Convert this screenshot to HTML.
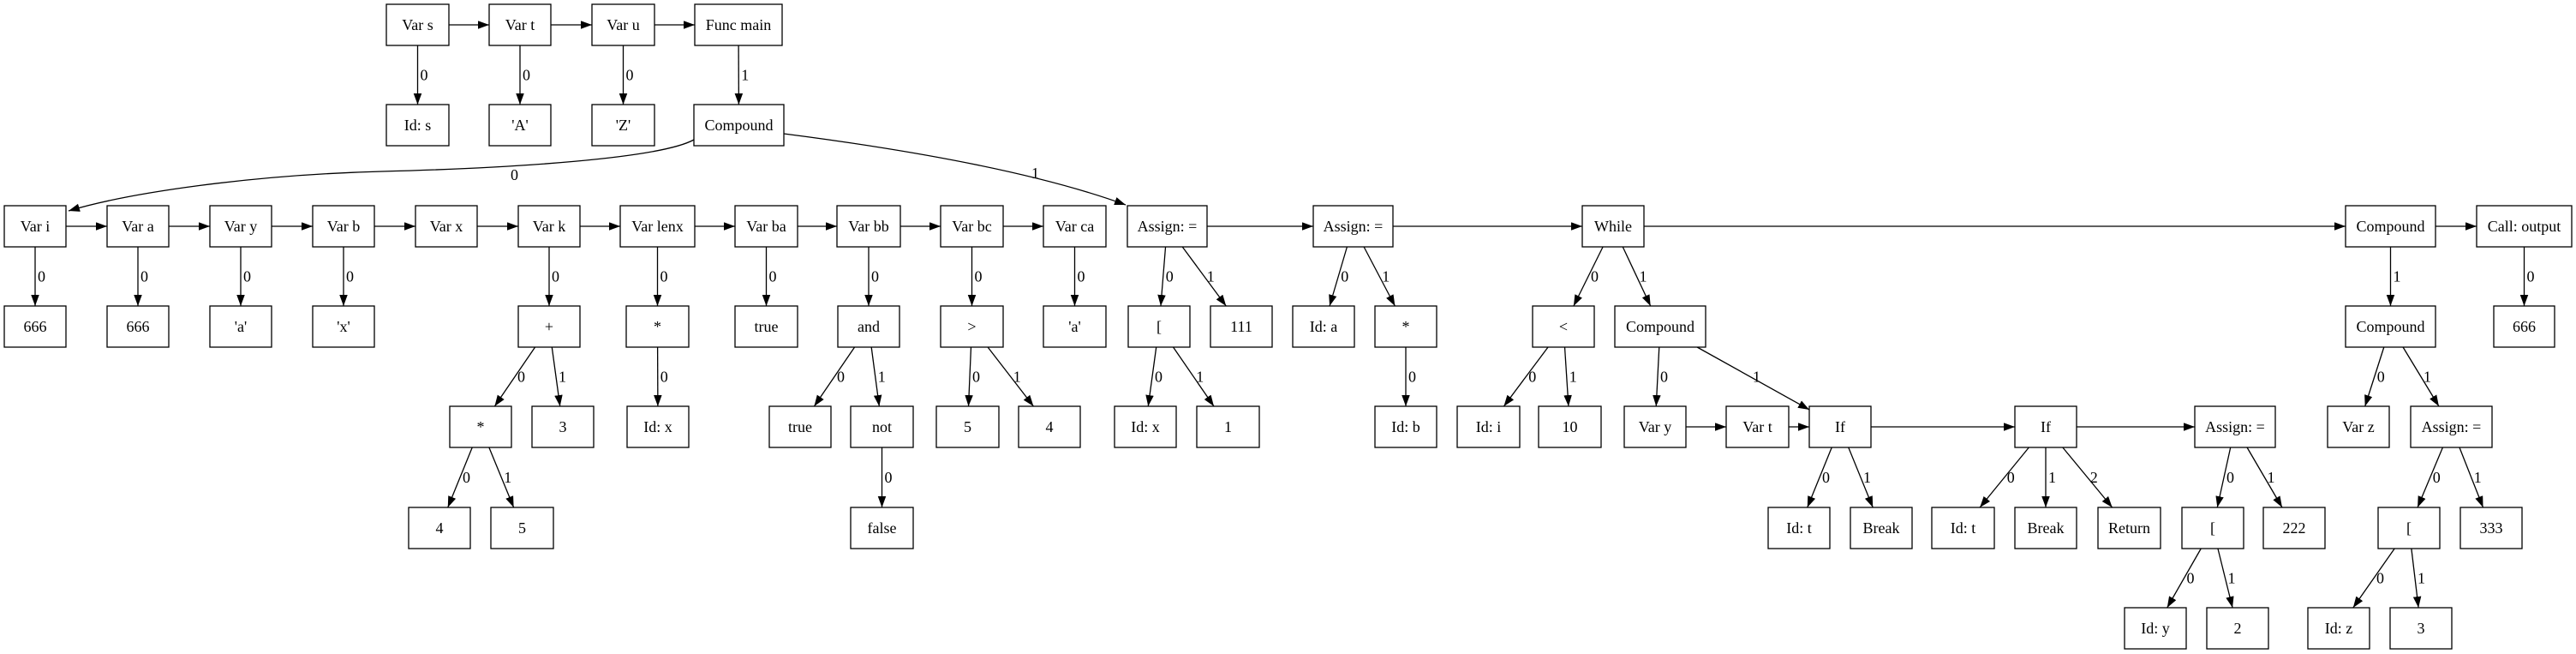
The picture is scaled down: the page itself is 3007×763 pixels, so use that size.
<!DOCTYPE html>
<html><head><meta charset="utf-8"><style>
html,body{margin:0;padding:0;background:#fff;}
svg{display:block;}
text{font-family:"Liberation Serif","Times New Roman",serif;font-size:18px;fill:#000;}
.n{text-anchor:middle;}
</style></head><body>
<svg id="s" width="3007" height="763" viewBox="0 0 3007 763" xmlns="http://www.w3.org/2000/svg">
<defs><marker id="ah" markerUnits="userSpaceOnUse" markerWidth="14" markerHeight="10" refX="13" refY="4.75" orient="auto"><path d="M0,0 L13,4.75 L0,9.5 z" fill="#000"/></marker></defs>
<g id="edges" stroke="#000" stroke-width="1.3" fill="none">
<path d="M810,163 C770,185 600,196 446,200 S150,225 80,246" marker-end="url(#ah)"/>
<path d="M915,156 Q1180,190 1314,239" marker-end="url(#ah)"/>
</g>
<g id="boxes" fill="#fff" stroke="#000" stroke-width="1.3"></g>
<text x="596" y="210">0</text>
<text x="1204" y="208">1</text>
<g>
<text id="L_vs_ids">0</text><text id="L_vt_cA">0</text><text id="L_vu_cZ">0</text><text id="L_fm_cmp0">1</text>
<text id="L_vi_a666">0</text><text id="L_va_b666">0</text><text id="L_vy_ca">0</text><text id="L_vb_cx">0</text><text id="L_vk_plus">0</text><text id="L_vlenx_star1">0</text><text id="L_vba_tr1">0</text><text id="L_vbb_and">0</text><text id="L_vbc_gt">0</text><text id="L_vca_ca2">0</text><text id="L_as1_br1">0</text><text id="L_as1_n111">1</text><text id="L_as2_ida">0</text><text id="L_as2_star2">1</text><text id="L_wh_lt">0</text><text id="L_wh_cmp2">1</text><text id="L_cmp1_cmp3">1</text><text id="L_call_c666">0</text>
<text id="L_plus_star0">0</text><text id="L_plus_n3">1</text><text id="L_star1_idx">0</text><text id="L_and_tr2">0</text><text id="L_and_not">1</text><text id="L_gt_n5">0</text><text id="L_gt_n4">1</text><text id="L_br1_idx2">0</text><text id="L_br1_n1">1</text><text id="L_star2_idb">0</text><text id="L_lt_idi">0</text><text id="L_lt_n10">1</text><text id="L_cmp2_vy2">0</text><text id="L_cmp2_if1">1</text><text id="L_cmp3_vz">0</text><text id="L_cmp3_as4">1</text>
<text id="L_star0_n4b">0</text><text id="L_star0_n5b">1</text><text id="L_not_fals">0</text><text id="L_if1_idt1">0</text><text id="L_if1_brk1">1</text><text id="L_if2_idt2">0</text><text id="L_if2_brk2">1</text><text id="L_if2_ret">2</text><text id="L_as3_br2">0</text><text id="L_as3_n222">1</text><text id="L_as4_br3">0</text><text id="L_as4_n333">1</text>
<text id="L_br2_idy">0</text><text id="L_br2_n2">1</text><text id="L_br3_idz">0</text><text id="L_br3_n3b">1</text>
</g>
<g>
<text class="n" x="487.5" y="35">Var s</text>
<text class="n" x="607" y="35">Var t</text>
<text class="n" x="727.5" y="35">Var u</text>
<text class="n" x="862" y="35">Func main</text>
<text class="n" x="487.5" y="152">Id: s</text>
<text class="n" x="607" y="152">'A'</text>
<text class="n" x="727.5" y="152">'Z'</text>
<text class="n" x="862.5" y="152">Compound</text>
<text class="n" x="41" y="270">Var i</text>
<text class="n" x="161" y="270">Var a</text>
<text class="n" x="281" y="270">Var y</text>
<text class="n" x="401" y="270">Var b</text>
<text class="n" x="521" y="270">Var x</text>
<text class="n" x="641" y="270">Var k</text>
<text class="n" x="767.5" y="270">Var lenx</text>
<text class="n" x="894.5" y="270">Var ba</text>
<text class="n" x="1014" y="270">Var bb</text>
<text class="n" x="1134.5" y="270">Var bc</text>
<text class="n" x="1254.5" y="270">Var ca</text>
<text class="n" x="1362.5" y="270">Assign: =</text>
<text class="n" x="1579.5" y="270">Assign: =</text>
<text class="n" x="1883" y="270">While</text>
<text class="n" x="2790.5" y="270">Compound</text>
<text class="n" x="2946.5" y="270">Call: output</text>
<text class="n" x="41" y="387">666</text>
<text class="n" x="161" y="387">666</text>
<text class="n" x="281" y="387">'a'</text>
<text class="n" x="401" y="387">'x'</text>
<text class="n" x="641" y="387">+</text>
<text class="n" x="767.5" y="387">*</text>
<text class="n" x="894.5" y="387">true</text>
<text class="n" x="1014" y="387">and</text>
<text class="n" x="1134.5" y="387">&gt;</text>
<text class="n" x="1254.5" y="387">'a'</text>
<text class="n" x="1353" y="387">[</text>
<text class="n" x="1449" y="387">111</text>
<text class="n" x="1545" y="387">Id: a</text>
<text class="n" x="1641" y="387">*</text>
<text class="n" x="1825" y="387">&lt;</text>
<text class="n" x="1938" y="387">Compound</text>
<text class="n" x="2790.5" y="387">Compound</text>
<text class="n" x="2946.5" y="387">666</text>
<text class="n" x="561" y="504">*</text>
<text class="n" x="657" y="504">3</text>
<text class="n" x="768" y="504">Id: x</text>
<text class="n" x="934" y="504">true</text>
<text class="n" x="1029.5" y="504">not</text>
<text class="n" x="1129.5" y="504">5</text>
<text class="n" x="1225" y="504">4</text>
<text class="n" x="1337" y="504">Id: x</text>
<text class="n" x="1433.5" y="504">1</text>
<text class="n" x="1641" y="504">Id: b</text>
<text class="n" x="1737.5" y="504">Id: i</text>
<text class="n" x="1832.5" y="504">10</text>
<text class="n" x="1932" y="504">Var y</text>
<text class="n" x="2051.5" y="504">Var t</text>
<text class="n" x="2148" y="504">If</text>
<text class="n" x="2388" y="504">If</text>
<text class="n" x="2609" y="504">Assign: =</text>
<text class="n" x="2753" y="504">Var z</text>
<text class="n" x="2861.5" y="504">Assign: =</text>
<text class="n" x="513" y="622">4</text>
<text class="n" x="609.5" y="622">5</text>
<text class="n" x="1029.5" y="622">false</text>
<text class="n" x="2100" y="622">Id: t</text>
<text class="n" x="2196" y="622">Break</text>
<text class="n" x="2291.5" y="622">Id: t</text>
<text class="n" x="2388" y="622">Break</text>
<text class="n" x="2485.5" y="622">Return</text>
<text class="n" x="2583" y="622">[</text>
<text class="n" x="2678" y="622">222</text>
<text class="n" x="2812" y="622">[</text>
<text class="n" x="2908" y="622">333</text>
<text class="n" x="2516" y="739">Id: y</text>
<text class="n" x="2612" y="739">2</text>
<text class="n" x="2730" y="739">Id: z</text>
<text class="n" x="2826" y="739">3</text>
</g>
</svg>
<script>
var T=[5,122,240,357,474,592,709],H=48;
var N={vs:[451,524,0],vt:[571,643,0],vu:[691,764,0],fm:[811,913,0],
ids:[451,524,1],cA:[571,643,1],cZ:[691,764,1],cmp0:[810,915,1],
vi:[5,77,2],va:[125,197,2],vy:[245,317,2],vb:[365,437,2],vx:[485,557,2],vk:[605,677,2],vlenx:[724,811,2],vba:[858,931,2],vbb:[977,1051,2],vbc:[1098,1171,2],vca:[1218,1291,2],as1:[1316,1409,2],as2:[1533,1626,2],wh:[1847,1919,2],cmp1:[2738,2843,2],call:[2891,3002,2],
a666:[5,77,3],b666:[125,197,3],ca:[245,317,3],cx:[365,437,3],plus:[605,677,3],star1:[731,804,3],tr1:[858,931,3],and:[978,1050,3],gt:[1098,1171,3],ca2:[1218,1291,3],br1:[1317,1389,3],n111:[1413,1485,3],ida:[1509,1581,3],star2:[1605,1677,3],lt:[1789,1861,3],cmp2:[1885,1991,3],cmp3:[2738,2843,3],c666:[2911,2982,3],
star0:[525,597,4],n3:[621,693,4],idx:[732,804,4],tr2:[898,970,4],not:[993,1066,4],n5:[1093,1166,4],n4:[1189,1261,4],idx2:[1301,1373,4],n1:[1397,1470,4],idb:[1605,1677,4],idi:[1701,1774,4],n10:[1796,1869,4],vy2:[1896,1968,4],vt2:[2015,2088,4],if1:[2112,2184,4],if2:[2352,2424,4],as3:[2562,2656,4],vz:[2717,2789,4],as4:[2814,2909,4],
n4b:[477,549,5],n5b:[573,646,5],fals:[993,1066,5],idt1:[2064,2136,5],brk1:[2160,2232,5],idt2:[2255,2328,5],brk2:[2352,2424,5],ret:[2449,2522,5],br2:[2547,2619,5],n222:[2642,2714,5],br3:[2776,2848,5],n333:[2872,2944,5],
idy:[2480,2552,6],n2:[2576,2648,6],idz:[2694,2766,6],n3b:[2790,2862,6]};
var chains=[["vs","vt","vu","fm"],["vi","va","vy","vb","vx","vk","vlenx","vba","vbb","vbc","vca"],["as1","as2","wh","cmp1","call"],["vy2","vt2","if1","if2","as3"]];
var E=[["vs","ids"],["vt","cA"],["vu","cZ"],["fm","cmp0"],
["vi","a666"],["va","b666"],["vy","ca"],["vb","cx"],["vk","plus"],["vlenx","star1"],["vba","tr1"],["vbb","and"],["vbc","gt"],["vca","ca2"],["as1","br1"],["as1","n111"],["as2","ida"],["as2","star2"],["wh","lt"],["wh","cmp2"],["cmp1","cmp3"],["call","c666"],
["plus","star0"],["plus","n3"],["star1","idx"],["and","tr2"],["and","not"],["gt","n5"],["gt","n4"],["br1","idx2"],["br1","n1"],["star2","idb"],["lt","idi"],["lt","n10"],["cmp2","vy2"],["cmp2","if1"],["cmp3","vz"],["cmp3","as4"],
["star0","n4b"],["star0","n5b"],["not","fals"],["if1","idt1"],["if1","brk1"],["if2","idt2"],["if2","brk2"],["if2","ret"],["as3","br2"],["as3","n222"],["as4","br3"],["as4","n333"],
["br2","idy"],["br2","n2"],["br3","idz"],["br3","n3b"]];
var NS="http://www.w3.org/2000/svg";
function el(t,a,p){var e=document.createElementNS(NS,t);for(var k in a)e.setAttribute(k,a[k]);p.appendChild(e);return e;}
var B=document.getElementById("boxes"),G=document.getElementById("edges");
for(var k in N){var n=N[k];el("rect",{x:n[0],y:T[n[2]],width:n[1]-n[0],height:H},B);}
function c(id){var n=N[id];return [(n[0]+n[1])/2,T[n[2]]+H/2,(n[1]-n[0])/2,H/2];}
function clip(b,dx,dy){var t=Infinity;if(dx)t=Math.min(t,b[2]/Math.abs(dx));if(dy)t=Math.min(t,b[3]/Math.abs(dy));return t;}
function edge(a,b){var A=c(a),Bb=c(b),dx=Bb[0]-A[0],dy=Bb[1]-A[1];
var t1=clip(A,dx,dy),t2=clip(Bb,dx,dy);
el("line",{x1:A[0]+dx*t1,y1:A[1]+dy*t1,x2:Bb[0]-dx*t2,y2:Bb[1]-dy*t2,"marker-end":"url(#ah)"},G);}
chains.forEach(function(ch){for(var i=0;i<ch.length-1;i++)edge(ch[i],ch[i+1]);});
E.forEach(function(e){edge(e[0],e[1]);
var t=document.getElementById("L_"+e[0]+"_"+e[1]);
if(t){var A=c(e[0]),Bb=c(e[1]);t.setAttribute("x",(A[0]+Bb[0])/2+3);t.setAttribute("y",(A[1]+Bb[1])/2+6);}});
</script>
</body></html>
